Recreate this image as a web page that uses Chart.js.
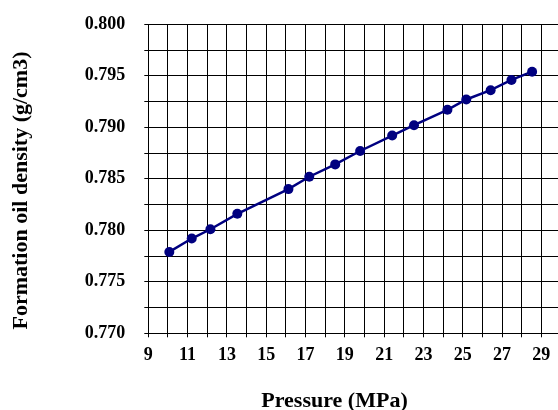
<!DOCTYPE html>
<html>
<head>
<meta charset="utf-8">
<script src="https://cdn.jsdelivr.net/npm/chart.js@4"></script>
<style>
  body { margin: 0; background: #fff; overflow: hidden; }
  #wrap { width: 561px; height: 410px; }
</style>
</head>
<body>
<div id="wrap"><canvas id="densityChart" width="561" height="410"></canvas></div>
<script>
// Pressure (MPa) and formation oil density (g/cm3)
const pressure = [10.07, 11.21, 12.16, 13.53, 16.13, 17.19, 18.51, 19.78, 21.41, 22.52, 24.22, 25.18, 26.42, 27.48, 28.53];
const density = [0.7779, 0.7792, 0.7801, 0.7816, 0.7840, 0.7852, 0.7864, 0.7877, 0.7892, 0.7902, 0.7917, 0.7927, 0.7936, 0.7946, 0.7954];

// Axis labels
const xTickLabels = ['9', '11', '13', '15', '17', '19', '21', '23', '25', '27', '29'];
const yTickLabels = ['0.770', '0.775', '0.780', '0.785', '0.790', '0.795', '0.800'];
const xTitle = 'Pressure (MPa)';
const yTitle = 'Formation oil density (g/cm3)';

const serif = '"Liberation Serif", "Times New Roman", serif';

// Draw the axis titles where the reference has them
const axisTitles = {
    id: 'axisTitles',
    afterDraw(chart) {
        const ctx = chart.ctx;
        ctx.save();
        ctx.fillStyle = '#000';
        ctx.font = 'bold 22px ' + serif;
        ctx.textAlign = 'center';
        ctx.textBaseline = 'alphabetic';
        ctx.fillText(xTitle, 334.5, 406.5);
        ctx.translate(26.5, 190.5);
        ctx.rotate(-Math.PI / 2);
        ctx.fillText(yTitle, 0, 0);
        ctx.restore();
    }
};

// keep the plot box fixed, no extra room for edge labels
function fixX(axis) {
    axis.height = 76.7;
    axis.paddingLeft = 0;
    axis.paddingRight = 0;
}
function fixY(axis) {
    axis.width = 148.3;
    axis.paddingTop = 0;
    axis.paddingBottom = 0;
}

const ctx = document.getElementById('densityChart').getContext('2d');
const densityChart = new Chart(ctx, {
    type: 'line',
    data: {
        datasets: [{
            data: pressure.map((p, i) => ({ x: p, y: density[i] })),
            borderColor: '#000080',
            backgroundColor: '#000080',
            borderWidth: 2.5,
            pointRadius: 5,
            pointBorderWidth: 0,
            pointBackgroundColor: '#000080',
            tension: 0,
            fill: false
        }]
    },
    options: {
        responsive: false,
        animation: false,
        layout: { autoPadding: false, padding: { top: 24.3, left: 0, right: 0, bottom: 0 } },
        plugins: {
            legend: { display: false },
            tooltip: { enabled: false }
        },
        scales: {
            x: {
                type: 'linear',
                min: 9,
                max: 30,
                afterFit: fixX,
                grid: { color: '#000', lineWidth: 1, tickLength: 4 },
                border: { color: '#000', width: 1 },
                ticks: {
                    stepSize: 1,
                    autoSkip: false,
                    maxRotation: 0,
                    padding: 7,
                    color: '#000',
                    font: { family: serif, size: 18, weight: 'bold' },
                    callback: (v) => {
                        const i = xTickLabels.indexOf(String(v));
                        return i >= 0 ? xTickLabels[i] : '';
                    }
                }
            },
            y: {
                min: 0.770,
                max: 0.800,
                afterFit: fixY,
                grid: { color: '#000', lineWidth: 1, tickLength: 4 },
                border: { color: '#000', width: 1 },
                ticks: {
                    stepSize: 0.0025,
                    autoSkip: false,
                    padding: 19,
                    color: '#000',
                    font: { family: serif, size: 18, weight: 'bold' },
                    callback: (v) => {
                        const k = Math.round((v - 0.770) / 0.0025);
                        return k % 2 === 0 ? yTickLabels[k / 2] : '';
                    }
                }
            }
        }
    },
    plugins: [axisTitles]
});
</script>
</body>
</html>
